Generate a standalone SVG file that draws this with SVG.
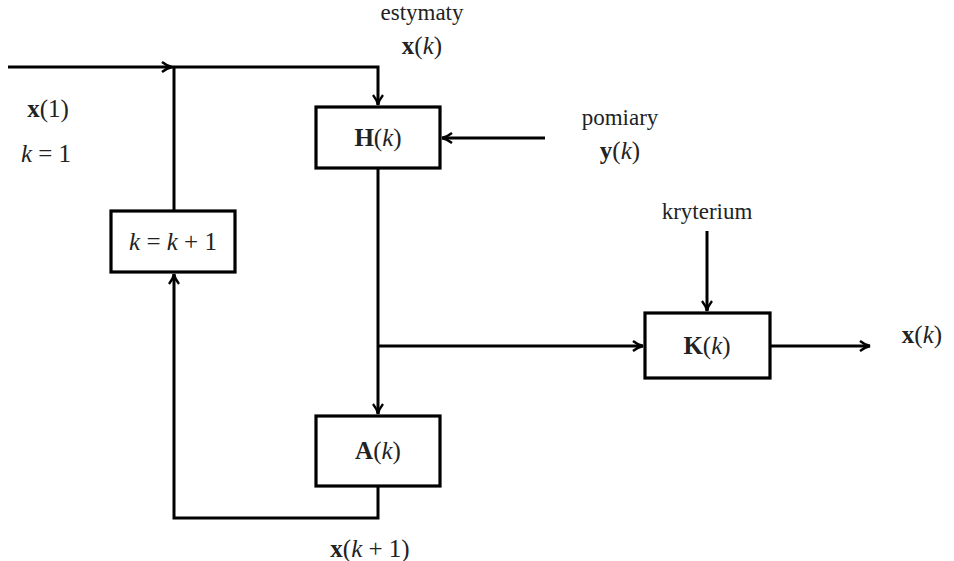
<svg xmlns="http://www.w3.org/2000/svg" width="954" height="561" viewBox="0 0 954 561">
<style>
.box{fill:#fff;stroke:#000;stroke-width:3.2}
.ln{fill:none;stroke:#000;stroke-width:3}
text{font-family:"DejaVu Serif","Liberation Serif",serif;font-size:21px;fill:#222;text-anchor:middle}
.m{font-family:"Liberation Serif","DejaVu Serif",serif;font-size:25px}
.w{font-family:"Liberation Serif","DejaVu Serif",serif;font-size:23px}
.b{font-weight:bold}
.i{font-style:italic}
</style>
<defs>
<marker id="ah" viewBox="0 0 12 12" refX="11" refY="6" markerWidth="12" markerHeight="12" markerUnits="userSpaceOnUse" orient="auto">
<path d="M1,1 Q6,5 11,6 Q6,7 1,11" fill="none" stroke="#000" stroke-width="2.4"/>
</marker>
</defs>
<rect width="954" height="561" fill="#fff"/>
<g id="connectors">
<path class="ln" d="M8,67 H172" marker-end="url(#ah)"/>
<path class="ln" d="M172,67 H378 V105" marker-end="url(#ah)"/>
<path class="ln" d="M174,67 V211"/>
<path class="ln" d="M545,138 H442" marker-end="url(#ah)"/>
<path class="ln" d="M378,168 V414" marker-end="url(#ah)"/>
<path class="ln" d="M378,346 H643" marker-end="url(#ah)"/>
<path class="ln" d="M707,231 V311" marker-end="url(#ah)"/>
<path class="ln" d="M770,346 H870" marker-end="url(#ah)"/>
<path class="ln" d="M378,486 V518 H174 V274" marker-end="url(#ah)"/>
</g>
<g id="H">
<rect class="box" x="316" y="107" width="124" height="61"/>
<text class="m" x="378" y="146"><tspan class="b">H</tspan>(<tspan class="i">k</tspan>)</text>
</g>
<g id="inc">
<rect class="box" x="111" y="211" width="124" height="61"/>
<text class="m" x="173" y="250"><tspan class="i">k</tspan> = <tspan class="i">k</tspan> + 1</text>
</g>
<g id="A">
<rect class="box" x="316" y="416" width="124" height="70"/>
<text class="m" x="378" y="459"><tspan class="b">A</tspan>(<tspan class="i">k</tspan>)</text>
</g>
<g id="K">
<rect class="box" x="645" y="313" width="125" height="65"/>
<text class="m" x="707" y="354"><tspan class="b">K</tspan>(<tspan class="i">k</tspan>)</text>
</g>
<g id="labels">
<text class="w" x="422" y="20">estymaty</text>
<text class="m" x="422" y="54"><tspan class="b">x</tspan>(<tspan class="i">k</tspan>)</text>
<text class="m" x="48" y="117"><tspan class="b">x</tspan>(1)</text>
<text class="m" x="46" y="162"><tspan class="i">k</tspan> = 1</text>
<text class="w" x="620" y="125">pomiary</text>
<text class="m" x="620" y="159"><tspan class="b">y</tspan>(<tspan class="i">k</tspan>)</text>
<text class="w" x="707" y="219">kryterium</text>
<text class="m" x="922" y="343"><tspan class="b">x</tspan>(<tspan class="i">k</tspan>)</text>
<text class="m" x="370" y="557"><tspan class="b">x</tspan>(<tspan class="i">k</tspan> + 1)</text>
</g>
</svg>
